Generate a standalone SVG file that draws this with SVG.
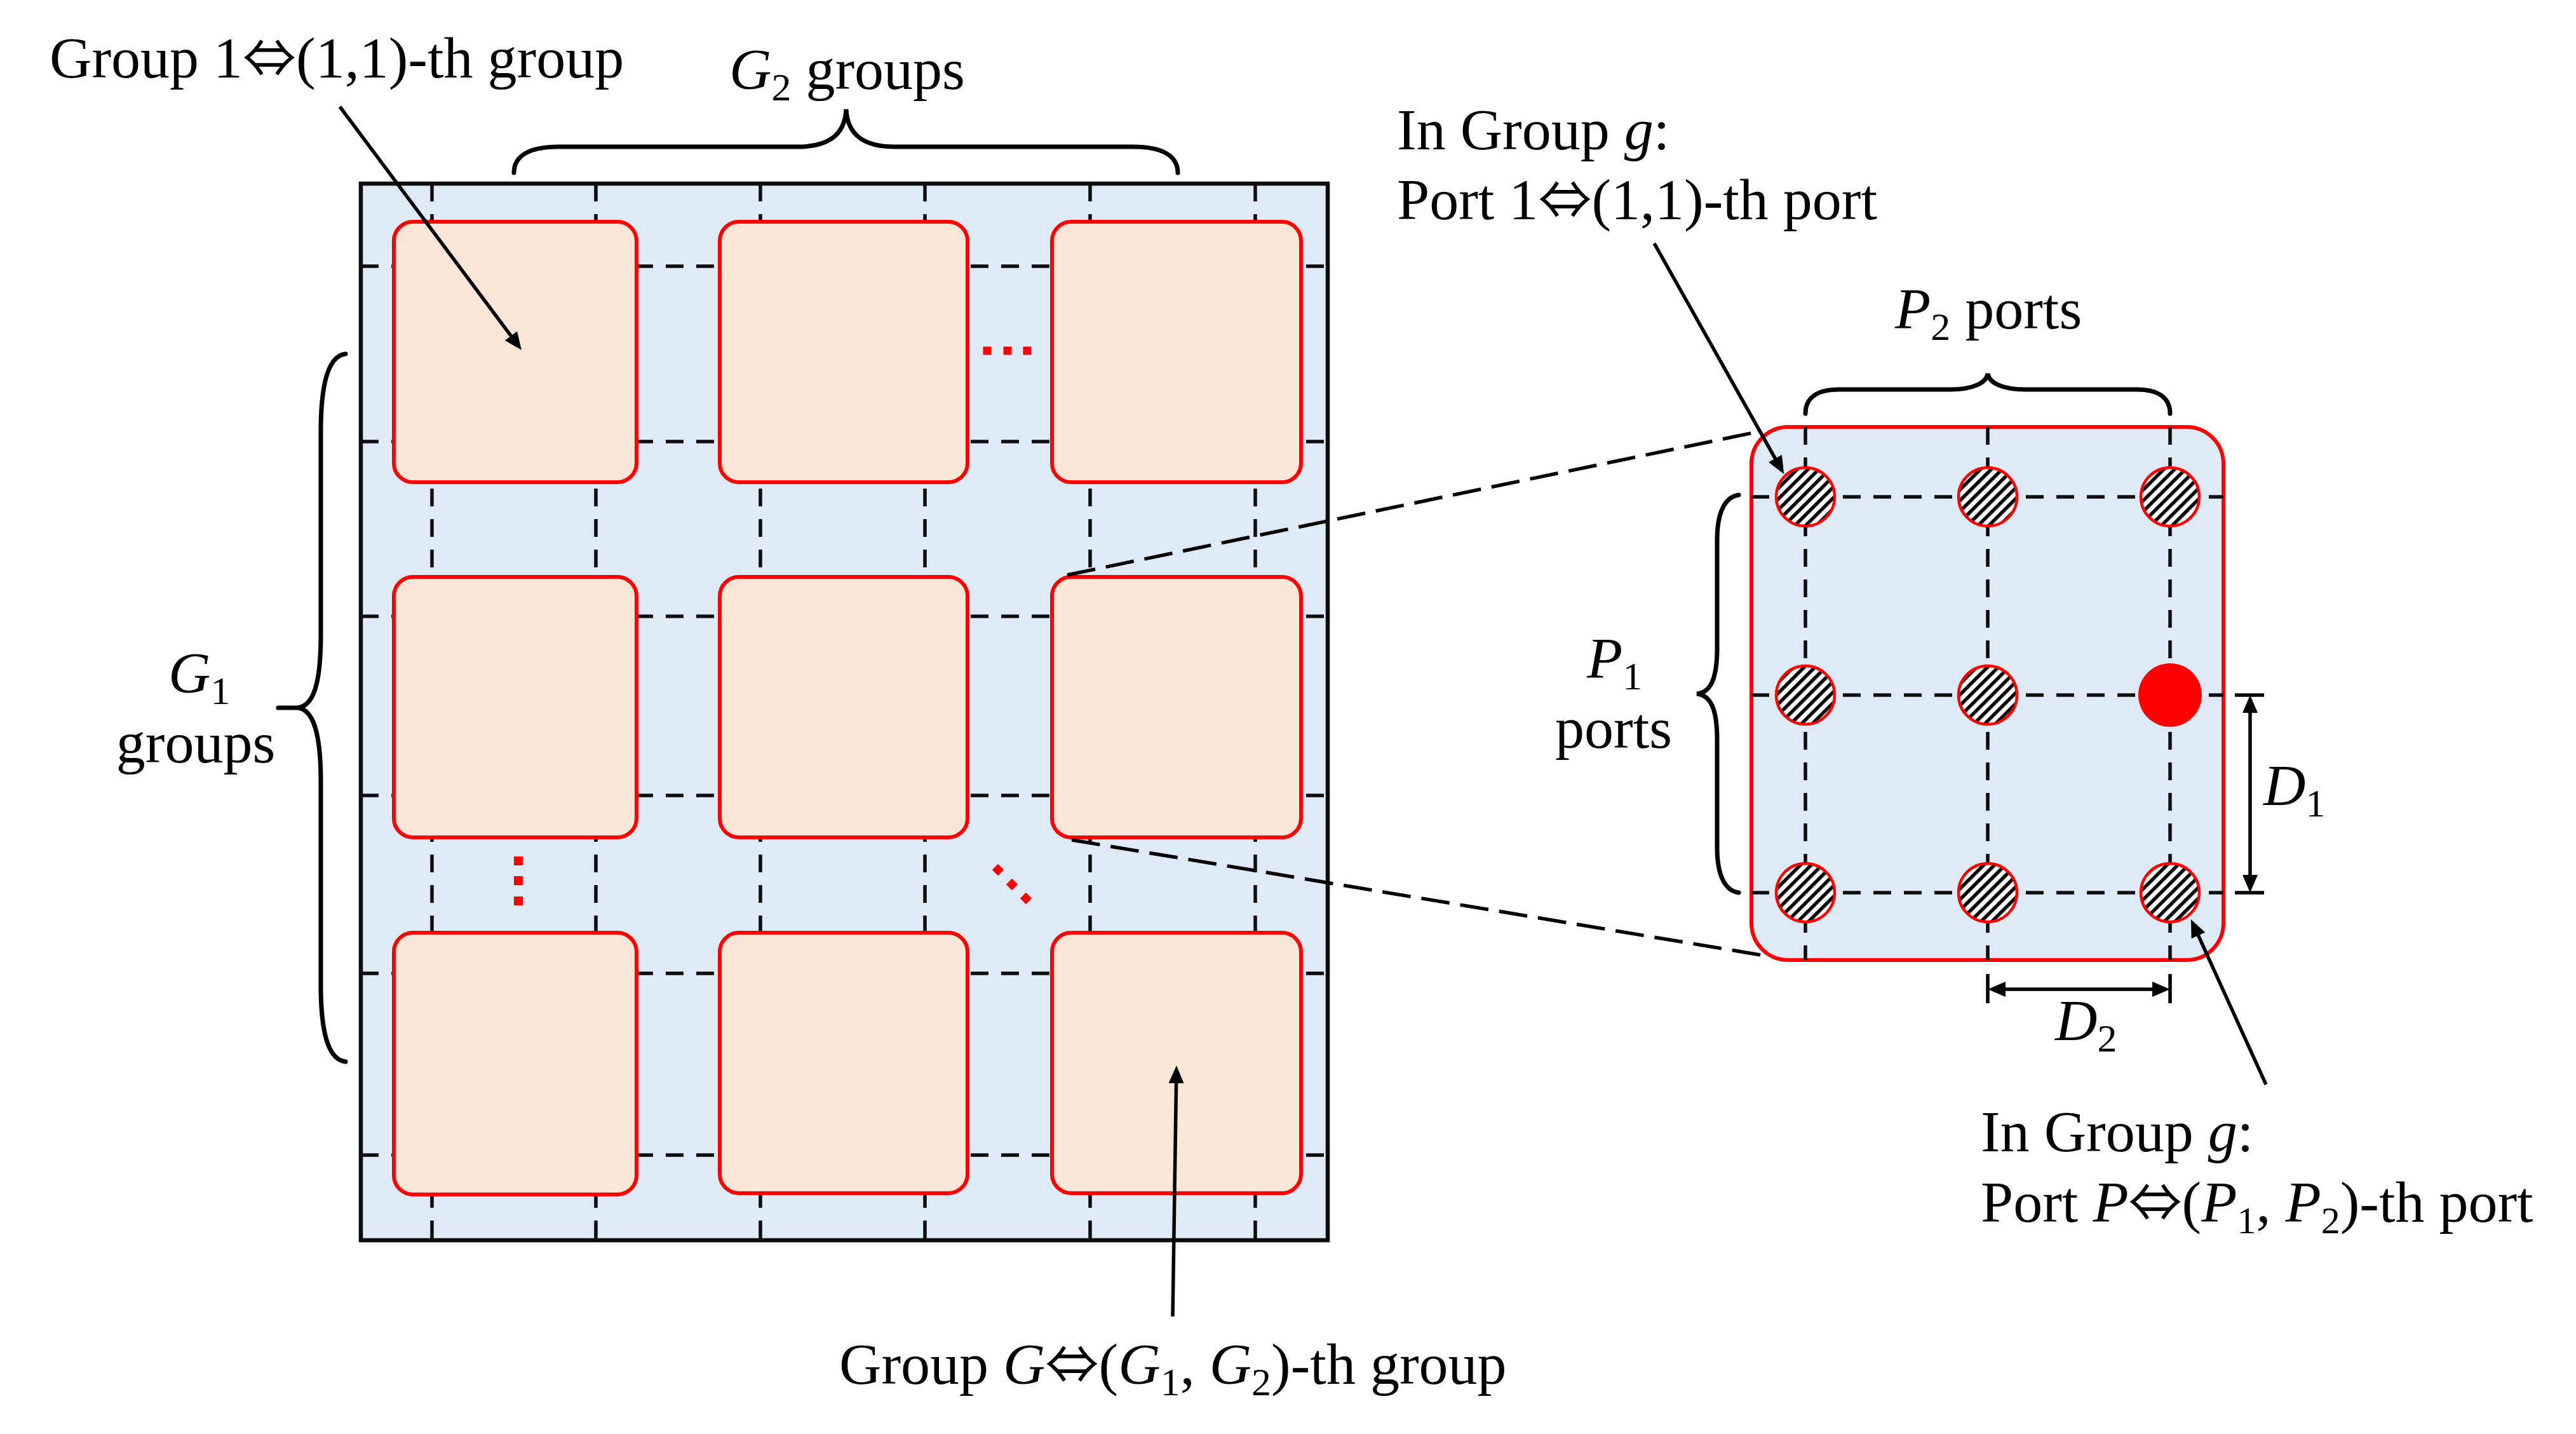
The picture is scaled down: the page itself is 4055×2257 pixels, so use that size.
<svg xmlns="http://www.w3.org/2000/svg" width="4055" height="2257" viewBox="0 0 4055 2257">
<style>
.bg{fill:#DEEBF7}
.grp{fill:#FBE5D6;stroke:#FF0000;stroke-width:6}
.dash{stroke:#0D0D0D;stroke-width:5.5;stroke-dasharray:28 20;fill:none}
.zoom{stroke:#000;stroke-width:5.5;stroke-dasharray:45 17;fill:none}
.frame{fill:none;stroke:#0D0D0D;stroke-width:6.5}
.brace{fill:none;stroke:#000;stroke-width:7;stroke-linecap:round}
.arr{stroke:#000;stroke-width:5.5;fill:none}
.port{fill:url(#hatch);stroke:#FF0000;stroke-width:4.5}
.dot{fill:#FF0000}
.tick{stroke:#000;stroke-width:5.5}
text{font-family:'Liberation Serif','DejaVu Serif',serif;font-size:92px;fill:#000}
.it{font-style:italic}
.iff{font-family:'Noto Sans CJK JP','DejaVu Serif',sans-serif;font-size:84px}
</style>
<defs>
<pattern id="hatch" patternUnits="userSpaceOnUse" width="12" height="12" patternTransform="rotate(45)">
<rect width="12" height="12" fill="#fff"/>
<rect width="5.5" height="12" fill="#000"/>
</pattern>
<marker id="ah" markerUnits="userSpaceOnUse" markerWidth="28" markerHeight="24" refX="2" refY="12" orient="auto-start-reverse" viewBox="0 0 28 24">
<path d="M0,0 L28,12 L0,24 z" fill="#000"/>
</marker>
</defs>
<rect width="4055" height="2257" fill="#fff"/>

<g id="array">
<rect class="bg" x="568" y="289" width="1522" height="1663"/>
<g id="grid-lines">
<path class="dash" d="M680,289V1952M938,289V1952M1197,289V1952M1456,289V1952M1716,289V1952M1976,289V1952"/>
<path class="dash" d="M568,419H2090M568,695H2090M568,970H2090M568,1252H2090M568,1532H2090M568,1818H2090"/>
</g>
<g id="group-1-1"><rect class="grp" x="620" y="349" width="382" height="410" rx="30"/></g>
<g id="group-1-2"><rect class="grp" x="1133" y="349" width="390" height="410" rx="30"/></g>
<g id="group-1-3"><rect class="grp" x="1656" y="349" width="392" height="410" rx="30"/></g>
<g id="group-2-1"><rect class="grp" x="620" y="908" width="382" height="410" rx="30"/></g>
<g id="group-2-2"><rect class="grp" x="1133" y="908" width="390" height="410" rx="30"/></g>
<g id="group-2-3"><rect class="grp" x="1656" y="908" width="392" height="410" rx="30"/></g>
<g id="group-3-1"><rect class="grp" x="620" y="1468" width="382" height="412" rx="30"/></g>
<g id="group-3-2"><rect class="grp" x="1133" y="1468" width="390" height="410" rx="30"/></g>
<g id="group-3-3"><rect class="grp" x="1656" y="1468" width="392" height="410" rx="30"/></g>
<rect class="frame" x="568" y="289" width="1522" height="1663"/>
<g id="ellipses">
<rect class="dot" x="1547.5" y="545.5" width="13" height="13"/>
<rect class="dot" x="1579.5" y="545.5" width="13" height="13"/>
<rect class="dot" x="1610.5" y="545.5" width="13" height="13"/>
<rect class="dot" x="809" y="1348" width="14" height="14"/>
<rect class="dot" x="809" y="1379" width="14" height="14"/>
<rect class="dot" x="809" y="1411" width="14" height="14"/>
<rect class="dot" x="-6.5" y="-6.5" width="13" height="13" transform="translate(1571,1369) rotate(45)"/>
<rect class="dot" x="-6.5" y="-6.5" width="13" height="13" transform="translate(1593,1392) rotate(45)"/>
<rect class="dot" x="-6.5" y="-6.5" width="13" height="13" transform="translate(1615,1414) rotate(45)"/>
</g>
</g>

<g id="group-detail">
<rect x="2757" y="672" width="743" height="839" rx="58" fill="#DEEBF7" stroke="#FF0000" stroke-width="6"/>
<path class="dash" d="M2842,672V1511M3129,672V1511M3416,672V1511"/>
<path class="dash" d="M2757,782H3500M2757,1094H3500M2757,1405H3500"/>
<g id="port-1-1"><circle class="port" cx="2842" cy="782" r="46"/></g>
<g id="port-1-2"><circle class="port" cx="3129" cy="782" r="46"/></g>
<g id="port-1-3"><circle class="port" cx="3416" cy="782" r="46"/></g>
<g id="port-2-1"><circle class="port" cx="2842" cy="1094" r="46"/></g>
<g id="port-2-2"><circle class="port" cx="3129" cy="1094" r="46"/></g>
<g id="port-2-3"><circle cx="3416" cy="1094" r="50" fill="#FF0000"/></g>
<g id="port-3-1"><circle class="port" cx="2842" cy="1405" r="46"/></g>
<g id="port-3-2"><circle class="port" cx="3129" cy="1405" r="46"/></g>
<g id="port-3-3"><circle class="port" cx="3416" cy="1405" r="46"/></g>
</g>

<g id="connectors">
<path class="zoom" d="M1680,905L2765,680"/>
<path class="zoom" d="M1687,1322L2777,1504"/>
<path class="arr" d="M535,168L805.5,530.2" marker-end="url(#ah)"/>
<path class="arr" d="M2604,383L2795.4,723.3" marker-end="url(#ah)"/>
<path class="arr" d="M1846,2072L1851.6,1703" marker-end="url(#ah)"/>
<path class="arr" d="M3567,1707L3459.7,1470.7" marker-end="url(#ah)"/>
<path class="tick" d="M3518,1094H3564M3518,1405H3564"/>
<path class="arr" d="M3542,1120V1379" marker-start="url(#ah)" marker-end="url(#ah)"/>
<path class="tick" d="M3129,1533V1579M3416,1533V1579"/>
<path class="arr" d="M3155,1557H3390" marker-start="url(#ah)" marker-end="url(#ah)"/>
</g>

<g id="braces">
<path class="brace" d="M544,557C518,560 505,600 505,680L505,1000C505,1080 492,1112 468,1114L438,1114M468,1114C492,1116 505,1150 505,1230L505,1550C505,1630 518,1668 544,1671"/>
<path class="brace" d="M809,272C809,247 830,231 880,231L1255,231C1305,231 1330,212 1332,172C1334,212 1359,231 1409,231L1783,231C1833,231 1854,247 1854,272"/>
<path class="brace" d="M2842,651C2842,628 2858,613 2895,613L3070,613C3105,613 3127,603 3129,588C3131,603 3153,613 3188,613L3363,613C3400,613 3416,628 3416,651"/>
<path class="brace" d="M2737,779C2716,782 2703,805 2703,850L2703,1020C2703,1070 2692,1090 2671,1092C2692,1094 2703,1114 2703,1164L2703,1334C2703,1379 2716,1402 2737,1405"/>
</g>

<g id="labels">
<text x="78" y="122" font-size="94">Group 1<tspan class="iff">⇔</tspan>(1,1)-th group</text>
<text x="1148" y="140"><tspan class="it">G</tspan><tspan font-size="62" dy="18">2</tspan><tspan dy="-18"> groups</tspan></text>
<text x="265" y="1090"><tspan class="it">G</tspan><tspan font-size="62" dy="18">1</tspan></text>
<text x="308" y="1200" text-anchor="middle">groups</text>
<text x="2199" y="235" font-size="94">In Group <tspan class="it">g</tspan>:</text>
<text x="2199" y="345" font-size="94">Port 1<tspan class="iff">⇔</tspan>(1,1)-th port</text>
<text x="2983" y="517"><tspan class="it">P</tspan><tspan font-size="62" dy="18">2</tspan><tspan dy="-18"> ports</tspan></text>
<text x="2498" y="1067"><tspan class="it">P</tspan><tspan font-size="62" dy="18">1</tspan></text>
<text x="2540" y="1177" text-anchor="middle">ports</text>
<text x="3563" y="1267"><tspan class="it">D</tspan><tspan font-size="62" dy="18">1</tspan></text>
<text x="3235" y="1637"><tspan class="it">D</tspan><tspan font-size="62" dy="18">2</tspan></text>
<text x="3118" y="1812">In Group <tspan class="it">g</tspan>:</text>
<text x="3118" y="1923" font-size="90">Port <tspan class="it">P</tspan><tspan class="iff" font-size="80">⇔</tspan>(<tspan class="it">P</tspan><tspan font-size="60" dy="18">1</tspan><tspan dy="-18">, </tspan><tspan class="it">P</tspan><tspan font-size="60" dy="18">2</tspan><tspan dy="-18">)-th port</tspan></text>
<text x="1321" y="2178">Group <tspan class="it">G</tspan><tspan class="iff">⇔</tspan>(<tspan class="it">G</tspan><tspan font-size="62" dy="18">1</tspan><tspan dy="-18">, </tspan><tspan class="it">G</tspan><tspan font-size="62" dy="18">2</tspan><tspan dy="-18">)-th group</tspan></text>
</g>
</svg>
